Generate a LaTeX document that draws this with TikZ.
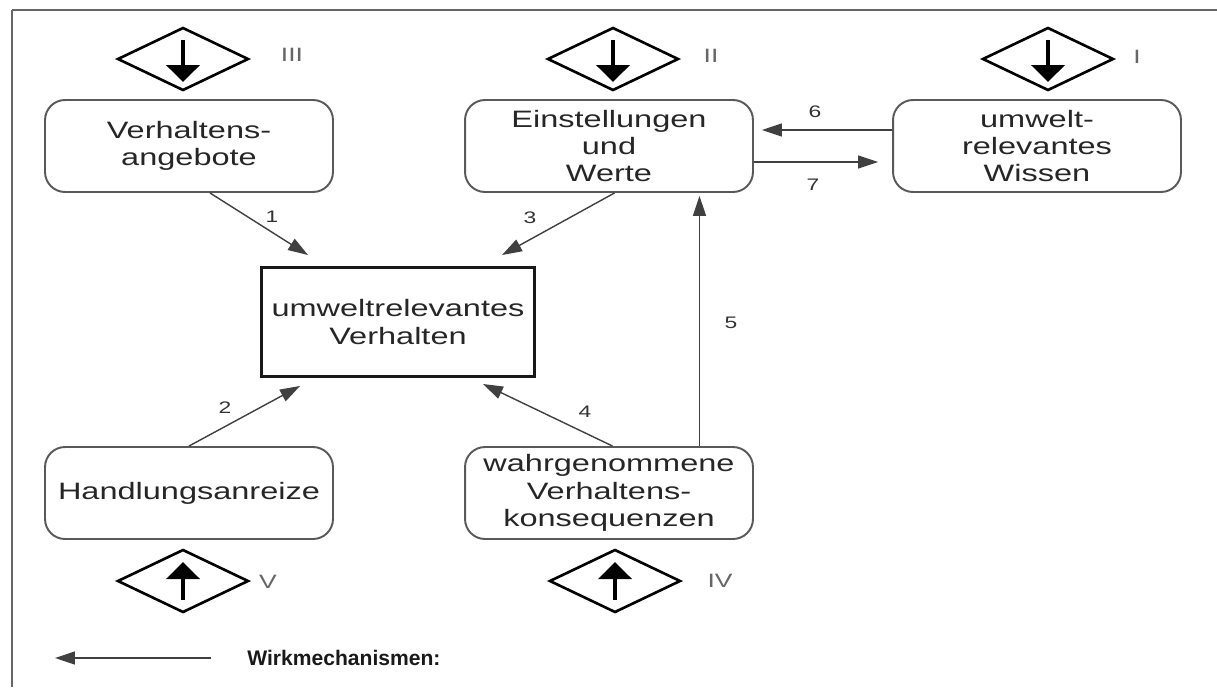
\documentclass[tikz,border=0pt]{standalone}
\usepackage{fontspec}
\newfontfamily\diafont{Liberation Sans}[FakeStretch=1.37]
\newfontfamily\legfont{Liberation Sans}
\usetikzlibrary{arrows.meta}

\begin{document}
\begin{tikzpicture}[x=0.02cm, y=-0.02cm,
    box/.style={draw=black!65, line width=1.1pt, rounded corners=0.4cm, minimum width=5.76cm, minimum height=1.84cm, inner sep=0pt, align=center, text=black!85, font=\diafont\fontsize{13.5}{15.5}\selectfont},
    valveline/.style={line width=1.5pt, line join=miter},
    valvearrow/.style={-{Triangle[length=0.34cm,width=0.66cm]}, line width=2.8pt},
    flow/.style={-{Triangle[length=0.4cm,width=0.26cm]}, draw=black!75, line width=0.8pt},
    num/.style={text=black!80, font=\diafont\fontsize{9.5}{10}\selectfont},
    roman/.style={text=black!60, font=\diafont\fontsize{11}{12}\selectfont}]
        \useasboundingbox (0,0) rectangle (1217,687);

        % Frame (top and left edge)
        \draw[black!60, line width=1.6pt] (1217,10) -- (12,10);
        \draw[black!60, line width=1.1pt] (12,10) -- (12,687);

        % Valves with their numerals
        \coordinate (vIII) at (183,59);
        \coordinate (vII) at (613,59);
        \coordinate (vI) at (1048,59);
        \coordinate (vV) at (183,581);
        \coordinate (vIV) at (615,581);
        \foreach \v in {vIII,vII,vI,vV,vIV}
            \draw[valveline] ([xshift=-1.3cm]\v) -- ([yshift=0.62cm]\v) -- ([xshift=1.3cm]\v) -- ([yshift=-0.62cm]\v) -- cycle;
        \foreach \v in {vIII,vII,vI}
            \draw[valvearrow] ([yshift=0.38cm]\v) -- ([yshift=-0.46cm]\v);
        \foreach \v in {vV,vIV}
            \draw[valvearrow] ([yshift=-0.38cm]\v) -- ([yshift=0.38cm]\v);
        \node[roman] (lIII) at (292,55) {III};
        \node[roman] (lII) at (711,56) {II};
        \node[roman] (lI) at (1137,57) {I};
        \node[roman] (lV) at (268,582) {V};
        \node[roman] (lIV) at (720,581) {IV};

        % Boxes
        \node[box] (angebote) at (189,146) {Verhaltens-\\angebote};
        \node[box] (werte) at (609,146) {Einstellungen\\und\\Werte};
        \node[box] (wissen) at (1037,146) {umwelt-\\relevantes\\Wissen};
        \node[box] (anreize) at (189,493) {Handlungsanreize};
        \node[box] (folgen) at (609,493) {wahrgenommene\\Verhaltens-\\konsequenzen};
        \node[box, rounded corners=0pt, draw=black!90, line width=1.7pt, minimum width=5.46cm, minimum height=2.18cm] (verhalten) at (398,322) {umweltrelevantes\\Verhalten};

        % Mechanisms 1-7
        \draw[flow] ([xshift=0.42cm]angebote.south) -- ([xshift=-1.8cm,yshift=0.22cm]verhalten.north);
        \draw[flow] (anreize.north) -- ([xshift=-1.96cm,yshift=-0.16cm]verhalten.south);
        \draw[flow] ([xshift=0.11cm]werte.south) -- ([xshift=2.08cm,yshift=0.22cm]verhalten.north);
        \draw[flow] ([xshift=0.07cm]folgen.north) -- ([xshift=1.7cm,yshift=-0.12cm]verhalten.south);
        \draw[flow] ([xshift=1.81cm]folgen.north) -- ([xshift=1.81cm,yshift=-0.06cm]werte.south);
        \draw[flow] ([yshift=0.32cm]wissen.west) -- ([xshift=0.16cm,yshift=0.32cm]werte.east);
        \draw[flow] ([yshift=-0.32cm]werte.east) -- ([xshift=-0.28cm,yshift=-0.32cm]wissen.west);
        \node[num] (n1) at (272,217) {1};
        \node[num] (n2) at (225,408) {2};
        \node[num] (n3) at (530,218) {3};
        \node[num] (n4) at (585,412) {4};
        \node[num] (n5) at (731,323) {5};
        \node[num] (n6) at (815,112) {6};
        \node[num] (n7) at (813,185) {7};

        % Legend
        \coordinate (legtail) at (211,658);
        \coordinate (legtip) at (55,658);
        \draw[flow] (legtail) -- (legtip);
        \node[anchor=west, inner sep=0pt, text=black!90, font=\legfont\bfseries\fontsize{12}{13}\selectfont] (legend) at (247,658) {Wirkmechanismen:};
    \end{tikzpicture}
\end{document}
